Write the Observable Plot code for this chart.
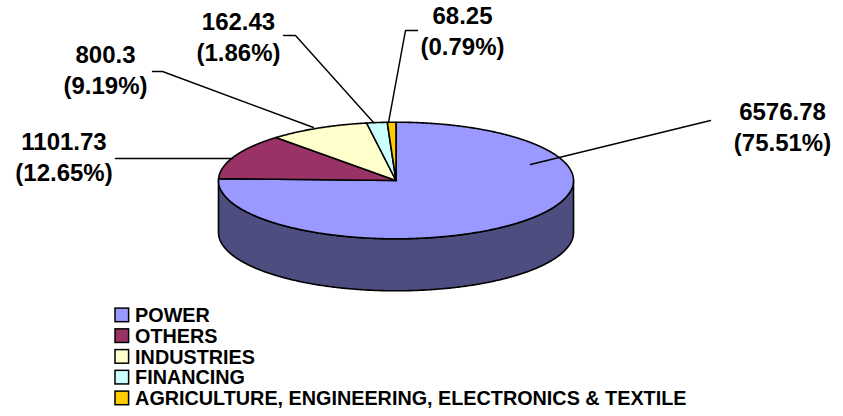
<!DOCTYPE html>
<html>
<head>
<meta charset="utf-8">
<script src="https://cdn.jsdelivr.net/npm/d3@7"></script>
<script src="https://cdn.jsdelivr.net/npm/@observablehq/plot@0.6"></script>
<style>
  html, body { margin: 0; padding: 0; background: #fff; }
  #chart svg { display: block; }
</style>
</head>
<body>
<div id="chart"></div>
<script>
// ---------------- DATA ----------------
const categories = ["POWER", "OTHERS", "INDUSTRIES", "FINANCING", "AGRICULTURE, ENGINEERING, ELECTRONICS & TEXTILE"];
const values = [6576.78, 1101.73, 800.3, 162.43, 68.25];
const valueLabels = ["6576.78", "1101.73", "800.3", "162.43", "68.25"];
const percentLabels = ["75.51%", "12.65%", "9.19%", "1.86%", "0.79%"];
const colors = ["#9999FF", "#993366", "#FFFFCC", "#CCFFFF", "#FFCC00"];

// ---------------- LAYOUT ----------------
const W = 843, H = 416;
const CX = 395.5, CY = 180, RX = 177.5, RY = 58.3, DEPTH = 52;
const FONT = "'Liberation Sans', Arial, 'DejaVu Sans', sans-serif";
// label anchor (center x, baseline of last line) per slice
const labelPos = [
  {x: 782, y: 150}, {x: 63.5, y: 180}, {x: 105, y: 93}, {x: 238, y: 60}, {x: 462, y: 54}
];
// leader line paths per slice
const leaderPaths = [
  [[530, 164], [710, 120]],
  [[232, 158], [115, 158]],
  [[313, 127], [162, 71], [152, 71]],
  [[373, 122], [295, 35], [283, 35]],
  [[388, 122], [405, 30], [417, 30]]
];
const LEG_X = 115, LEG_BASE0 = 321.7, LEG_DY = 20.75, LEG_SQ = 13.6, LEG_FONT = 19.8;

// ---------------- GEOMETRY ----------------
const arcs = d3.pie().sort(null).value(d => d).startAngle(0).endAngle(2 * Math.PI)(values);
const pt = (a, dy = 0) => ({x: CX + RX * Math.sin(a), y: CY + dy - RY * Math.cos(a)});
function arcPoints(a0, a1, dy = 0) {
  const n = Math.max(2, Math.ceil(Math.abs(a1 - a0) / (Math.PI / 360)));
  const out = [];
  for (let i = 0; i <= n; i++) out.push(pt(a0 + (a1 - a0) * i / n, dy));
  return out;
}
const darker = c => { const r = d3.rgb(c); return d3.rgb(r.r * 0.5, r.g * 0.5, r.b * 0.5).formatHex(); };

const sidePts = [];
const topPts = [];
arcs.forEach((a, i) => {
  // visible front side wall: angles between PI/2 and 3PI/2
  const s0 = Math.max(a.startAngle, Math.PI / 2), s1 = Math.min(a.endAngle, 3 * Math.PI / 2);
  if (s1 > s0) {
    const pts = [...arcPoints(s0, s1, 0), ...arcPoints(s1, s0, DEPTH)];
    pts.forEach(p => sidePts.push({...p, id: i, fill: darker(colors[i])}));
  }
  const top = [{x: CX, y: CY}, ...arcPoints(a.startAngle, a.endAngle, 0)];
  top.forEach(p => topPts.push({...p, id: i, fill: colors[i]}));
});

const leaderPts = leaderPaths.flatMap((path, i) => path.map(([x, y]) => ({x, y, id: i})));
const labels = categories.map((c, i) => ({
  x: labelPos[i].x, y: labelPos[i].y,
  text: valueLabels[i] + "\n(" + percentLabels[i] + ")"
}));
const legendRows = categories.map((c, i) => ({
  name: c, fill: colors[i], base: LEG_BASE0 + i * LEG_DY
}));

// ---------------- CHART ----------------
const chart = Plot.plot({
  width: W, height: H,
  margin: 0,
  style: {background: "#fff", overflow: "visible"},
  x: {type: "linear", domain: [0, W], range: [0, W], axis: null},
  y: {type: "linear", domain: [0, H], range: [0, H], axis: null},
  color: {type: "identity"},
  marks: [
    Plot.line(sidePts, {x: "x", y: "y", z: "id", fill: "fill", stroke: "#000", strokeWidth: 1.6, strokeLinejoin: "round", curve: "linear-closed"}),
    Plot.line(topPts, {x: "x", y: "y", z: "id", fill: "fill", stroke: "#000", strokeWidth: 1.6, strokeLinejoin: "round", curve: "linear-closed"}),
    Plot.line(leaderPts, {x: "x", y: "y", z: "id", stroke: "#000", strokeWidth: 1.4}),
    Plot.text(labels, {x: "x", y: "y", text: "text", textAnchor: "middle", lineAnchor: "bottom", lineHeight: 1.27,
      fontSize: 24, fontWeight: "bold", fontFamily: FONT, fill: "#000"}),
    Plot.rect(legendRows, {x1: LEG_X, x2: LEG_X + LEG_SQ, y1: d => d.base - LEG_SQ, y2: d => d.base,
      fill: "fill", stroke: "#000", strokeWidth: 1.5}),
    Plot.text(legendRows, {x: LEG_X + LEG_SQ + 6, y: "base", text: "name", textAnchor: "start", lineAnchor: "bottom",
      fontSize: LEG_FONT, fontWeight: "bold", fontFamily: FONT, fill: "#000"})
  ]
});
document.getElementById("chart").appendChild(chart);
</script>
</body>
</html>
